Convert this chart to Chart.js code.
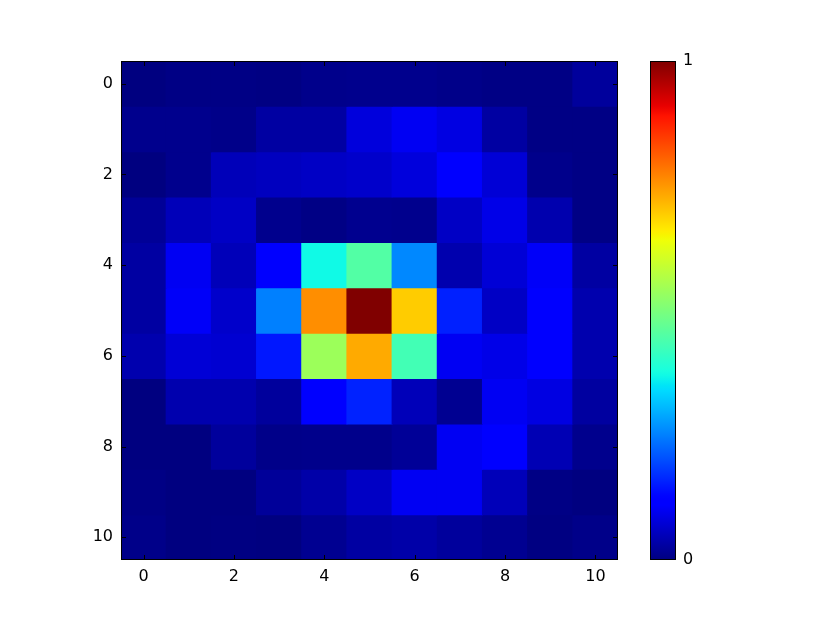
<!DOCTYPE html>
<html>
<head>
<meta charset="utf-8">
<script src="https://cdn.jsdelivr.net/npm/chart.js@4.4.1/dist/chart.umd.min.js"></script>
<style>
  html, body { margin: 0; padding: 0; background: #ffffff; }
  #wrap { position: relative; width: 830px; height: 623px; }
</style>
</head>
<body>
<div id="wrap"><canvas id="c" width="830" height="623"></canvas></div>
<script>
// ---- data ----
const cols = [0, 1, 2, 3, 4, 5, 6, 7, 8, 9, 10];
const rowIdx = [0, 1, 2, 3, 4, 5, 6, 7, 8, 9, 10];
const tickValues = [0, 2, 4, 6, 8, 10];
const colorbarLabels = ["0", "1"];

const row0  = [0.000, 0.005, 0.005, 0.003, 0.010, 0.012, 0.012, 0.008, 0.005, 0.005, 0.025];
const row1  = [0.012, 0.012, 0.008, 0.030, 0.030, 0.080, 0.100, 0.085, 0.030, 0.005, 0.005];
const row2  = [0.000, 0.012, 0.050, 0.055, 0.060, 0.065, 0.080, 0.115, 0.075, 0.010, 0.005];
const row3  = [0.020, 0.050, 0.060, 0.012, 0.005, 0.013, 0.012, 0.060, 0.090, 0.040, 0.005];
const row4  = [0.030, 0.100, 0.050, 0.118, 0.370, 0.450, 0.258, 0.040, 0.075, 0.105, 0.030];
const row5  = [0.030, 0.105, 0.065, 0.250, 0.760, 1.000, 0.694, 0.156, 0.060, 0.115, 0.040];
const row6  = [0.040, 0.075, 0.070, 0.148, 0.540, 0.730, 0.430, 0.100, 0.090, 0.115, 0.040];
const row7  = [0.000, 0.040, 0.040, 0.025, 0.115, 0.158, 0.050, 0.015, 0.100, 0.085, 0.028];
const row8  = [0.000, 0.000, 0.025, 0.008, 0.010, 0.010, 0.020, 0.100, 0.115, 0.045, 0.012];
const row9  = [0.005, 0.000, 0.000, 0.022, 0.035, 0.060, 0.100, 0.100, 0.050, 0.005, 0.000];
const row10 = [0.008, 0.000, 0.002, 0.000, 0.015, 0.030, 0.035, 0.025, 0.015, 0.002, 0.008];
const rows = [row0, row1, row2, row3, row4, row5, row6, row7, row8, row9, row10];

// ---- jet colormap ----
function interp(pts, v) {
  for (let i = 0; i < pts.length - 1; i++) {
    const [x0, y0] = pts[i], [x1, y1] = pts[i + 1];
    if (v >= x0 && v <= x1) return y0 + (y1 - y0) * (v - x0) / (x1 - x0);
  }
  return pts[pts.length - 1][1];
}
function jet(v) {
  v = Math.max(0, Math.min(1, v));
  const r = interp([[0, 0], [0.35, 0], [0.66, 1], [0.89, 1], [1, 0.5]], v);
  const g = interp([[0, 0], [0.125, 0], [0.375, 1], [0.64, 1], [0.91, 0], [1, 0]], v);
  const b = interp([[0, 0.5], [0.11, 1], [0.34, 1], [0.65, 0], [1, 0]], v);
  return `rgb(${Math.round(r * 255)},${Math.round(g * 255)},${Math.round(b * 255)})`;
}

const datasets = rowIdx.map(r => ({
  label: 'row ' + r,
  data: cols.map(c => ({ x: c, y: [r - 0.5, r + 0.5] })),
  backgroundColor: rows[r].map(v => jet(v)),
  borderWidth: 0,
  barPercentage: 1.0,
  categoryPercentage: 1.0,
  grouped: false,
  inflateAmount: 0.5
}));

const FONT = { family: 'DejaVu Sans', size: 16 };

const framePlugin = {
  id: 'frame',
  afterDatasetsDraw(chart) {
    const { ctx, chartArea: a, scales } = chart;
    ctx.save();
    ctx.strokeStyle = '#000';
    ctx.lineWidth = 1;
    ctx.beginPath();
    const tl = 5;
    tickValues.forEach(v => {
      const x = Math.round(scales.x.getPixelForValue(v)) + 0.5;
      ctx.moveTo(x, a.top); ctx.lineTo(x, a.top + tl);
      ctx.moveTo(x, a.bottom); ctx.lineTo(x, a.bottom - tl);
      const y = Math.round(scales.y.getPixelForValue(v)) + 0.5;
      ctx.moveTo(a.left, y); ctx.lineTo(a.left + tl, y);
      ctx.moveTo(a.right, y); ctx.lineTo(a.right - tl, y);
    });
    ctx.stroke();
    ctx.strokeRect(Math.round(a.left) + 0.5, Math.round(a.top) + 0.5,
                   Math.round(a.right - a.left) - 1, Math.round(a.bottom - a.top) - 1);

    // colorbar
    const cbL = a.right + 32, cbW = 26, cbT = a.top, cbB = a.bottom;
    const grad = ctx.createLinearGradient(0, cbB, 0, cbT);
    for (let i = 0; i <= 100; i++) grad.addColorStop(i / 100, jet(i / 100));
    ctx.fillStyle = grad;
    ctx.fillRect(cbL, cbT, cbW, cbB - cbT);
    ctx.strokeRect(cbL + 0.5, cbT + 0.5, cbW - 1, cbB - cbT - 1);
    ctx.fillStyle = '#000';
    ctx.font = `${FONT.size}px ${FONT.family}`;
    ctx.textBaseline = 'middle';
    ctx.textAlign = 'left';
    ctx.fillText(colorbarLabels[1], cbL + cbW + 7, cbT);
    ctx.fillText(colorbarLabels[0], cbL + cbW + 7, cbB);
    ctx.restore();
  }
};

new Chart(document.getElementById('c'), {
  type: 'bar',
  data: { datasets },
  options: {
    responsive: false,
    animation: false,
    devicePixelRatio: 1,
    layout: { padding: { top: 61, right: 212, left: 0, bottom: 0 } },
    plugins: { legend: { display: false }, tooltip: { enabled: false } },
    scales: {
      x: {
        type: 'linear',
        min: -0.5, max: 10.5,
        offset: false,
        grid: { display: false, drawTicks: false },
        border: { display: false },
        afterBuildTicks: s => { s.ticks = tickValues.map(v => ({ value: v })); },
        afterFit: s => { s.height = 63; },
        ticks: { color: '#000', font: FONT, padding: 7, maxRotation: 0, autoSkip: false }
      },
      y: {
        type: 'linear',
        min: -0.5, max: 10.5,
        reverse: true,
        grid: { display: false, drawTicks: false },
        border: { display: false },
        afterBuildTicks: s => { s.ticks = tickValues.map(v => ({ value: v })); },
        afterFit: s => { s.width = 121; },
        ticks: { color: '#000', font: FONT, padding: 8, autoSkip: false }
      }
    }
  },
  plugins: [framePlugin]
});
</script>
</body>
</html>
